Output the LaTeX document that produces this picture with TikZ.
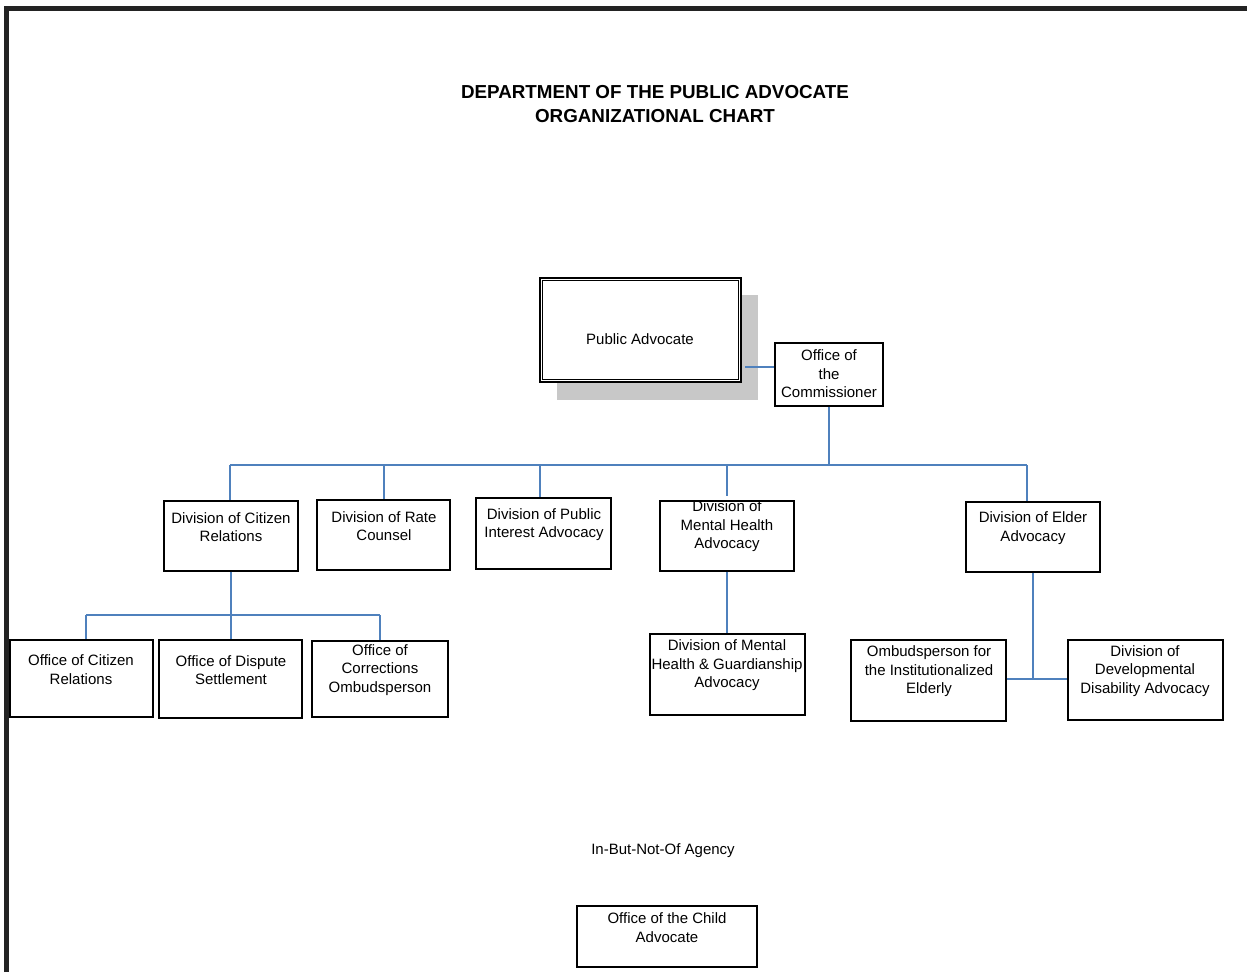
\documentclass[tikz,border=0pt]{standalone}
\usepackage{fontspec}
\setmainfont{Liberation Sans}
\definecolor{connblue}{RGB}{79,129,189}
\definecolor{shadowgray}{RGB}{200,200,200}
\definecolor{framedark}{RGB}{35,35,35}
\begin{document}
\begin{tikzpicture}[x=1pt,y=-1pt,
  box/.style={draw=black, line width=1.1pt, inner sep=0pt, fill=white},
  conn/.style={draw=connblue, line width=1.3pt},
  txt/.style={font=\fontsize{15}{18.5}\selectfont, align=center, inner sep=0pt},
  ttl/.style={font=\fontsize{18.8}{24}\selectfont\bfseries, align=center, inner sep=0pt}]
\useasboundingbox (0,0) rectangle (1247,972);
% frame
\draw[framedark, line width=5pt] (6.5,972) -- (6.5,8.5) -- (1247,8.5);
% title
\node[ttl] (title) at (655,104) {DEPARTMENT OF THE PUBLIC ADVOCATE\\ORGANIZATIONAL CHART};
% public advocate
\fill[shadowgray] (557,295) rectangle (758,400);
\node[box, minimum width=201pt, minimum height=104pt] (pa) at (640.5,330) {};
\draw[black, line width=1.1pt] ([shift={(3,3)}]pa.north west) rectangle ([shift={(-3,-3)}]pa.south east);
\node[txt] (pat) at (640,339) {Public Advocate};
% commissioner
\node[box, minimum width=108pt, minimum height=63pt] (comm) at (829,374.5) {};
\node[txt] (commt) at (829,374) {Office of\\the\\Commissioner};
% divisions
\node[box, minimum width=134pt, minimum height=70pt] (dcr) at (231,536) {};
\node[txt] (dcrt) at (231,527) {Division of Citizen\\Relations};
\node[box, minimum width=133pt, minimum height=70pt] (drc) at (383.5,535) {};
\node[txt] (drct) at (384,526) {Division of Rate\\Counsel};
\node[box, minimum width=135pt, minimum height=71pt] (dpi) at (543.5,533.5) {};
\node[txt] (dpit) at (544,524.5) {Division of Public\\Interest Advocacy};
\node[box, minimum width=134pt, minimum height=70pt] (dmh) at (727,536) {};
\node[txt] (dmht) at (727,526.5) {Division of\\Mental Health\\Advocacy};
\node[box, minimum width=134pt, minimum height=70pt] (del) at (1033,537) {};
\node[txt] (delt) at (1033,528) {Division of Elder\\Advocacy};
% third level
\node[box, minimum width=143pt, minimum height=77pt] (ocr) at (81.5,678.5) {};
\node[txt] (ocrt) at (81,669.5) {Office of Citizen\\Relations};
\node[box, minimum width=143pt, minimum height=78pt] (ods) at (230.5,679) {};
\node[txt] (odst) at (231,670) {Office of Dispute\\Settlement};
\node[box, minimum width=136pt, minimum height=76pt] (oco) at (380,679) {};
\node[txt] (ocot) at (380,670) {Office of\\Corrections\\Ombudsperson};
\node[box, minimum width=155pt, minimum height=81pt] (dmhg) at (727.5,674.5) {};
\node[txt] (dmhgt) at (727,665.5) {Division of Mental\\Health \& Guardianship\\Advocacy};
\node[box, minimum width=155pt, minimum height=81pt] (omb) at (928.5,680.5) {};
\node[txt] (ombt) at (929,671.5) {Ombudsperson for\\the Institutionalized\\Elderly};
\node[box, minimum width=155pt, minimum height=80pt] (ddd) at (1145.5,680) {};
\node[txt] (dddt) at (1145,671) {Division of\\Developmental\\Disability Advocacy};
% in-but-not-of
\node[txt] (ibno) at (663,851) {In-But-Not-Of Agency};
\node[box, minimum width=180pt, minimum height=61pt] (oca) at (667,936.5) {};
\node[txt] (ocat) at (667,927.5) {Office of the Child\\Advocate};
% connectors
\coordinate (paj) at (745,367);
\draw[conn] (paj) -- (paj -| comm.west);
\coordinate (busL) at (230,465);
\coordinate (busR) at (1027,465);
\draw[conn] (comm.south) -- (comm.south |- busL);
\draw[conn] (busL) -- (busR);
\draw[conn] (busL) -- (busL |- dcr.north);
\coordinate (j2) at (384,465);
\draw[conn] (j2) -- (j2 |- drc.north);
\coordinate (j3) at (540,465);
\draw[conn] (j3) -- (j3 |- dpi.north);
\coordinate (j4) at (727,465);
\draw[conn] (j4) -- (727,496);
\draw[conn] (busR) -- (busR |- del.north);
% citizen relations subtree
\coordinate (cbL) at (86,615);
\coordinate (cbR) at (380,615);
\draw[conn] (dcr.south) -- (dcr.south |- cbL);
\draw[conn] (cbL) -- (cbR);
\draw[conn] (cbL) -- (cbL |- ocr.north);
\coordinate (cbM) at (231,615);
\draw[conn] (cbM) -- (cbM |- ods.north);
\draw[conn] (cbR) -- (cbR |- oco.north);
% mental health
\draw[conn] (dmh.south) -- (dmh.south |- dmhg.north);
% elder
\coordinate (ej) at (1033,679);
\draw[conn] (del.south) -- (ej);
\draw[conn] (ej -| omb.east) -- (ej -| ddd.west);
\end{tikzpicture}
\end{document}
